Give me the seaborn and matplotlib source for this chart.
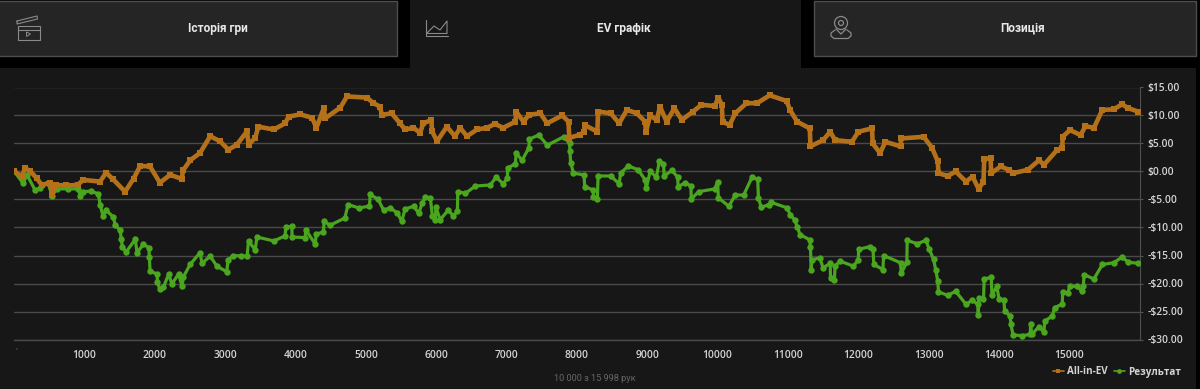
import pandas as pd
import matplotlib
matplotlib.use('Agg')
import matplotlib.pyplot as plt
from matplotlib.patches import Rectangle, Circle, Polygon
import seaborn as sns

tab_labels = ['Історія гри', 'EV графік', 'Позиція']
y_ticks = [15, 10, 5, 0, -5, -10, -15, -20, -25, -30]
y_labels = ['$15.00', '$10.00', '$5.00', '$0.00', '-$5.00', '-$10.00',
            '-$15.00', '-$20.00', '-$25.00', '-$30.00']
x_ticks = [1000, 2000, 3000, 4000, 5000, 6000, 7000, 8000, 9000, 10000,
           11000, 12000, 13000, 14000, 15000]
footer = '10 000 з 15 998 рук'

ev_hands = [0, 110, 150, 225, 318, 390, 507, 540, 590, 740, 900, 980, 1220, 1305, 1405, 1575,
            1695, 1790, 1930, 2070, 2215, 2380, 2400, 2500, 2640, 2785, 2925, 3045, 3165, 3310, 3330,
            3425, 3470, 3690, 3850, 3900, 4065, 4235, 4295, 4400, 4420, 4635, 4730, 5015, 5105, 5200,
            5225, 5365, 5485, 5555, 5675, 5770, 5815, 5930, 5940, 6010, 6150, 6265, 6340, 6435, 6580,
            6720, 6835, 6950, 7125, 7135, 7240, 7315, 7480, 7575, 7790, 7880, 7890, 8050, 8100, 8110,
            8290, 8300, 8480, 8600, 8710, 8850, 8970, 8980, 9040, 9135, 9180, 9275, 9385, 9490, 9650,
            9770, 9960, 10010, 10060, 10070, 10170, 10250, 10410, 10560, 10740, 10980, 11030, 11130,
            11310, 11320, 11500, 11600, 11670, 11910, 12000, 12195, 12205, 12310, 12385, 12600, 12610,
            12930, 13050, 13130, 13140, 13270, 13385, 13530, 13625, 13710, 13780, 13790, 13880, 13890,
            14025, 14140, 14200, 14410, 14570, 14640, 14830, 14900, 14905, 15010, 15160, 15230, 15350,
            15470, 15630, 15750, 15840, 15980]
ev_values = [0, -0.9, 0.6, 0.1, -1.2, -2.4, -2.0, -4.2, -2.4, -2.5, -2.4, -1.5, -1.8, -0.2, -1.4, -3.6,
             -1.3, 1.0, 0.9, -2.0, -0.6, -1.3, 0.2, 2.0, 3.3, 6.3, 5.4, 3.9, 4.8, 7.2, 4.8,
             6.0, 8.0, 7.5, 8.6, 9.8, 10.2, 9.6, 7.8, 11.3, 9.5, 11.4, 13.4, 13.2, 12.2, 11.6,
             10.1, 10.4, 8.6, 7.5, 7.8, 6.9, 8.6, 9.2, 7.2, 5.4, 8.0, 6.3, 7.8, 6.3, 7.5,
             7.8, 8.5, 7.8, 8.9, 10.7, 8.9, 10.1, 10.4, 8.6, 10.0, 8.9, 6.0, 6.6, 7.1, 8.3,
             7.1, 10.7, 10.4, 8.6, 11.0, 10.4, 8.9, 7.1, 10.0, 9.2, 11.6, 8.9, 11.3, 9.2, 10.7,
             11.9, 11.7, 13.2, 11.9, 8.9, 8.3, 10.4, 12.2, 12.2, 13.6, 12.6, 11.0, 8.9,
             7.7, 4.5, 5.6, 7.1, 5.6, 5.3, 7.1, 7.7, 5.0, 3.3, 5.3, 4.5, 5.9,
             6.2, 4.2, 1.8, -0.3, -0.8, 0.0, -1.8, -0.9, -3.1, -1.8, 2.2, 2.4, -0.3,
             0.9, 0.3, -0.3, 0.3, 2.0, 1.2, 3.9, 4.2, 6.2, 7.4, 6.5, 8.1, 7.8,
             11.0, 11.1, 12.0, 11.3, 10.7]

res_hands = [0, 125, 180, 295, 365, 480, 535, 605, 760, 910, 935, 980, 1090, 1195, 1220, 1260, 1305,
             1405, 1435, 1505, 1520, 1535, 1590, 1720, 1745, 1835, 1915, 1920, 1930, 2030, 2035, 2065,
             2120, 2195, 2240, 2335, 2385, 2405, 2500, 2640, 2670, 2785, 2880, 3020, 3040, 3115, 3230,
             3310, 3330, 3425, 3450, 3690, 3850, 3860, 3945, 3950, 4135, 4145, 4280, 4290, 4395, 4405,
             4490, 4700, 4745, 4895, 5050, 5060, 5175, 5250, 5345, 5445, 5510, 5555, 5680, 5750, 5800,
             5845, 5915, 5945, 5985, 5995, 6055, 6170, 6240, 6300, 6305, 6415, 6555, 6770, 6850, 6950,
             7010, 7015, 7125, 7135, 7220, 7315, 7325, 7455, 7580, 7810, 7895, 7900, 7910, 7950, 8100,
             8110, 8230, 8235, 8290, 8300, 8480, 8600, 8620, 8730, 8870, 8970, 8985, 9040, 9130, 9170,
             9230, 9240, 9350, 9430, 9440, 9540, 9620, 9625, 9730, 9960, 10000, 10010, 10160, 10250,
             10370, 10490, 10570, 10580, 10620, 10730, 10760, 10990, 11030, 11100, 11130, 11175, 11310,
             11320, 11330, 11340, 11450, 11500, 11600, 11605, 11660, 11670, 11740, 11930, 12000, 12005,
             12170, 12210, 12220, 12350, 12360, 12600, 12610, 12690, 12695, 12840, 12960, 13010, 13070,
             13100, 13130, 13140, 13270, 13385, 13530, 13620, 13700, 13705, 13715, 13780, 13790, 13890,
             13900, 13970, 14000, 14070, 14080, 14160, 14170, 14200, 14330, 14445, 14450, 14465, 14570,
             14640, 14650, 14760, 14790, 14900, 14905, 14975, 15010, 15110, 15180, 15200, 15210, 15350,
             15470, 15630, 15750, 15840, 15980]
res_values = [0, -2.1, -0.6, -3.3, -3.0, -2.0, -4.3, -3.1, -3.1, -3.1, -4.3, -3.6, -3.5, -4.0, -5.9, -7.9, -6.9,
              -8.1, -9.5, -10.5, -12.0, -13.4, -14.4, -12.1, -14.5, -13.0, -13.6, -15.2, -17.8, -18.3, -19.8, -20.9,
              -20.7, -18.3, -20.1, -18.3, -20.5, -18.8, -16.6, -14.5, -16.4, -15.1, -16.9, -17.9, -15.8, -15.0, -15.1,
              -15.1, -12.4, -14.0, -11.7, -12.4, -11.5, -9.9, -9.8, -11.7, -11.8, -10.4, -13.0, -11.2, -10.8, -8.9,
              -9.6, -8.3, -5.9, -6.5, -6.2, -4.1, -5.0, -6.9, -6.5, -7.4, -8.9, -6.7, -6.2, -7.5, -5.6,
              -4.6, -4.7, -8.0, -8.6, -6.4, -8.6, -6.9, -7.9, -7.1, -3.6, -3.9, -2.6, -2.4, -1.0, -2.2,
              -1.2, 0.6, 1.4, 3.3, 2.0, 4.2, 5.8, 6.5, 4.7, 6.2, 5.0, 3.6, 1.6, -0.3, -0.6,
              -2.7, -3.3, -4.6, -4.9, -0.8, -0.8, -2.2, -0.3, 1.0, 0.3, -1.5, -3.0, 0.0, -1.0, 1.8,
              1.4, -0.8, 0.2, -1.0, -2.7, -2.0, -2.6, -4.9, -3.6, -3.1, -1.8, -4.7, -6.2, -4.2,
              -4.2, -1.0, -1.4, -4.7, -6.4, -5.9, -5.5, -6.5, -7.7, -8.7, -9.9, -11.3, -12.2,
              -13.5, -17.5, -15.8, -15.4, -17.2, -16.4, -19.0, -19.3, -16.9, -16.0, -16.9, -15.8, -13.9,
              -13.4, -13.9, -16.6, -17.5, -15.0, -16.3, -18.2, -16.2, -12.3, -12.9, -12.3, -13.9, -15.7,
              -17.5, -19.6, -21.5, -22.1, -21.4, -23.7, -23.0, -23.7, -25.7, -22.6, -22.8, -19.2, -18.9,
              -22.0, -20.5, -22.8, -22.9, -24.9, -25.8, -27.3, -29.2, -29.3, -29.1, -27.2, -29.1, -27.7,
              -28.7, -26.7, -25.8, -24.3, -23.7, -21.5, -21.7, -20.5, -20.5, -21.4, -20.5, -18.4, -19.2,
              -16.6, -16.3, -15.3, -16.2, -16.4]

W, H = 1200, 389
BG = '#171717'
ORANGE = '#b5711a'
GREEN = '#4aa51f'

sns.set_theme(style='dark', rc={'axes.facecolor': BG, 'figure.facecolor': BG,
                                'axes.grid': False})
plt.rcParams['font.family'] = ['Open Sans', 'DejaVu Sans']

fig = plt.figure(figsize=(W / 100, H / 100), dpi=100)
fig.set_facecolor(BG)

# header and icons live on a full figure axes in pixel coordinates
top = fig.add_axes([0, 0, 1, 1], zorder=0)
top.set_xlim(0, W)
top.set_ylim(H, 0)
top.axis('off')
top.add_patch(Rectangle((0, 0), 410, 68, fc='#000000', ec='none'))
top.add_patch(Rectangle((801, 0), 399, 68, fc='#000000', ec='none'))
top.add_patch(Rectangle((1196, 0), 4, H, fc='#000000', ec='none'))
top.add_patch(Rectangle((-2, 0.5), 399, 55, fc='#252525', ec='#4d4d4d', lw=1))
top.add_patch(Rectangle((813.5, 0.5), 382, 55, fc='#252525', ec='#4d4d4d', lw=1))
for label, cx in zip(tab_labels, [217.5, 624, 1023]):
    top.text(cx, 28, label, ha='center', va='center', color='#e8e8e8',
             fontsize=8.6, fontweight='bold', family=['Roboto', 'DejaVu Sans'])

ic = '#8a8a8a'
# clapperboard
top.add_patch(Rectangle((17.5, 25.5), 22, 14, fc='none', ec=ic, lw=0.8))
top.plot([17.5, 39.5], [30, 30], color=ic, lw=0.8)
top.plot([17, 37, 37.5, 17, 17], [21, 16, 19, 24, 21], color=ic, lw=0.8)
top.add_patch(Polygon([(26.5, 32), (26.5, 36.5), (30.5, 34)], fc='none', ec=ic, lw=0.7))
# area chart
top.plot([426, 426, 448], [20, 35.5, 35.5], color=ic, lw=0.8)
top.plot([427, 434, 440, 447, 447, 427, 427], [33, 26, 30, 21, 33.5, 33.5, 33], color=ic, lw=0.8)
# location pin
top.add_patch(Circle((841, 23), 6.5, fc='none', ec=ic, lw=0.9))
top.add_patch(Circle((841, 23), 2.5, fc='none', ec=ic, lw=0.9))
top.plot([836, 841, 846], [29, 34, 29], color=ic, lw=0.9)
top.plot([835, 831, 831, 834, 848, 851, 851, 847],
         [30, 33, 36, 38.5, 38.5, 36, 33, 30], color=ic, lw=0.9)

# chart axes placed on the pixel box of the plot area
x0, x1, y0, y1 = 14.3, 1139.5, 87.5, 339.5
ax = fig.add_axes([x0 / W, 1 - y1 / H, (x1 - x0) / W, (y1 - y0) / H], zorder=1)
ax.patch.set_alpha(0)

res_df = pd.DataFrame({'hand': res_hands, 'value': res_values})
ev_df = pd.DataFrame({'hand': ev_hands, 'value': ev_values})
sns.lineplot(data=res_df, x='hand', y='value', sort=False, estimator=None, ax=ax,
             color=GREEN, lw=2.3, marker='o', ms=4.6, mew=0, label='Результат', zorder=3)
sns.lineplot(data=ev_df, x='hand', y='value', sort=False, estimator=None, ax=ax,
             color=ORANGE, lw=3.3, marker='s', ms=3.8, mew=0, label='All-in-EV', zorder=4)

ax.set_xlim(0, 15998)
ax.set_ylim(-30, 15)
ax.set_xlabel('')
ax.set_ylabel('')
ax.set_yticks(y_ticks)
ax.set_yticklabels(y_labels)
ax.set_xticks(x_ticks)
ax.yaxis.tick_right()
ax.tick_params(axis='y', colors='#d4d4d4', labelsize=7.4, length=2, width=0.8, pad=3.5,
               color='#555555')
ax.tick_params(axis='x', colors='#d4d4d4', labelsize=7.4, length=2.5, width=0.8, pad=5,
               color='#555555')
for lab in ax.get_xticklabels() + ax.get_yticklabels():
    lab.set_fontweight('semibold')
ax.grid(axis='y', color='#4a4a4a', lw=1)
ax.set_axisbelow(True)
for side in ['top', 'left']:
    ax.spines[side].set_visible(False)
ax.spines['right'].set_color('#4f4f4f')
ax.spines['bottom'].set_color('#4a4a4a')
ax.spines['right'].set_linewidth(0.8)
ax.spines['bottom'].set_linewidth(1)

# legend order as in the reference: EV first
handles, labels = ax.get_legend_handles_labels()
leg = ax.legend(handles[::-1], labels[::-1], ncol=2, frameon=False, loc='center right',
                bbox_to_anchor=(1181 / W, 1 - 372 / H), bbox_transform=fig.transFigure,
                fontsize=7.1, handlelength=1.1, handletextpad=0.35, columnspacing=0.6,
                borderpad=0, borderaxespad=0)
for t in leg.get_texts():
    t.set_color('#d4d4d4')
    t.set_fontweight('bold')
for h in leg.get_lines():
    h.set_linewidth(1.2)
    h.set_markersize(3.5)

top.text(595, 378.5, footer, ha='center', va='center', color='#666666', fontsize=6.6,
         family=['Roboto', 'DejaVu Sans'])
top.text(16, 351, '\'', ha='center', va='center', color='#777777', fontsize=6)

fig.savefig('out.png', dpi=100, facecolor=fig.get_facecolor())
